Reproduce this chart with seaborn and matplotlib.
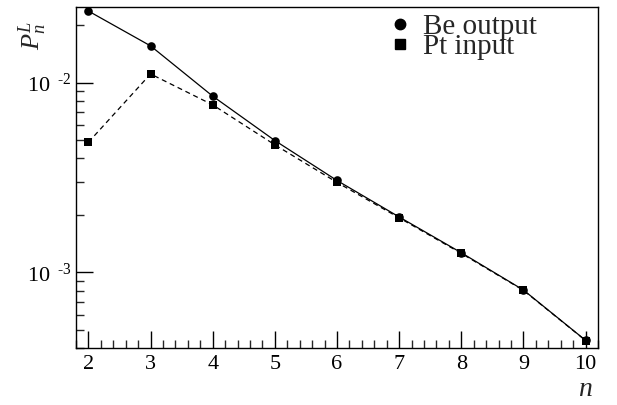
import numpy as np
import pandas as pd
import seaborn as sns
import matplotlib
matplotlib.use("Agg")
import matplotlib.pyplot as plt
from matplotlib.lines import Line2D
from matplotlib.ticker import FixedLocator, LogLocator, NullFormatter, MultipleLocator

n_values = [2, 3, 4, 5, 6, 7, 8, 9, 10]
be_output = [0.0238, 0.0156, 0.00848, 0.00495, 0.00305, 0.00196, 0.00127, 0.000808, 0.000439]
pt_input = [0.00485, 0.0111, 0.00763, 0.00470, 0.00298, 0.00194, 0.00126, 0.000805, 0.000438]
series_names = ["Be output", "Pt input"]
ytick_vals = [1e-3, 1e-2]
ytick_labels = [r"$10^{\;\;\,\text{-3}}$", r"$10^{\;\;\,\text{-2}}$"]

sns.set_theme(style="ticks")
plt.rcParams['font.family'] = ['Liberation Serif', 'DejaVu Serif']
plt.rcParams['mathtext.fontset'] = 'custom'
plt.rcParams['mathtext.rm'] = 'Liberation Serif'
plt.rcParams['mathtext.it'] = 'Liberation Serif:italic'

fig = plt.figure(figsize=(6.17, 4.05), dpi=100)
ax = fig.add_axes([76/617, 57/405, 522/617, 341/405])

df_be = pd.DataFrame({"n": n_values, "P": be_output})
df_pt = pd.DataFrame({"n": n_values, "P": pt_input})

sns.lineplot(data=df_be, x="n", y="P", ax=ax, color="black", lw=0.9,
             marker="o", markersize=6.2, markeredgewidth=0, linestyle="-")
sns.lineplot(data=df_pt, x="n", y="P", ax=ax, color="black", lw=0.9,
             marker="s", markersize=6, markeredgewidth=0, linestyle=(0, (4, 3)))

ax.set_yscale("log")
ax.set_xlim(1.8, 10.2)
ax.set_ylim(4.0e-4, 2.5e-2)

ax.xaxis.set_major_locator(MultipleLocator(1))
ax.xaxis.set_minor_locator(MultipleLocator(0.2))
ax.yaxis.set_major_locator(FixedLocator(ytick_vals))
ax.yaxis.set_minor_locator(LogLocator(base=10, subs=np.arange(2, 10)))
ax.yaxis.set_minor_formatter(NullFormatter())
ax.set_yticklabels(ytick_labels)

ax.tick_params(axis="both", which="major", direction="in", length=12, width=1,
               labelsize=16, colors="black", pad=5)
ax.tick_params(axis="both", which="minor", direction="in", length=6, width=1)
ax.tick_params(axis="y", which="major", pad=3)
ax.tick_params(top=False, right=False, which="both")

for s in ax.spines.values():
    s.set_linewidth(1.0)
    s.set_color("black")

ax.set_xlabel("")
ax.set_ylabel("")
fig.text(585/617, 1 - 390/405, r"$n$", fontsize=20, ha="center", va="center")
fig.text(33/617, 1 - 35/405, r"$P_n^L$", fontsize=19, ha="center", va="center", rotation=90)

handles = [Line2D([], [], marker="o", ls="none", color="black", markersize=7.5),
           Line2D([], [], marker="s", ls="none", color="black", markersize=6.5)]
ax.legend(handles, series_names, loc="upper left", bbox_to_anchor=(0.587, 0.99),
          frameon=False, fontsize=21, handletextpad=0.3, labelspacing=-0.2,
          handlelength=1.0, borderaxespad=0, borderpad=0.1)

fig.savefig("out.png", dpi=100)
